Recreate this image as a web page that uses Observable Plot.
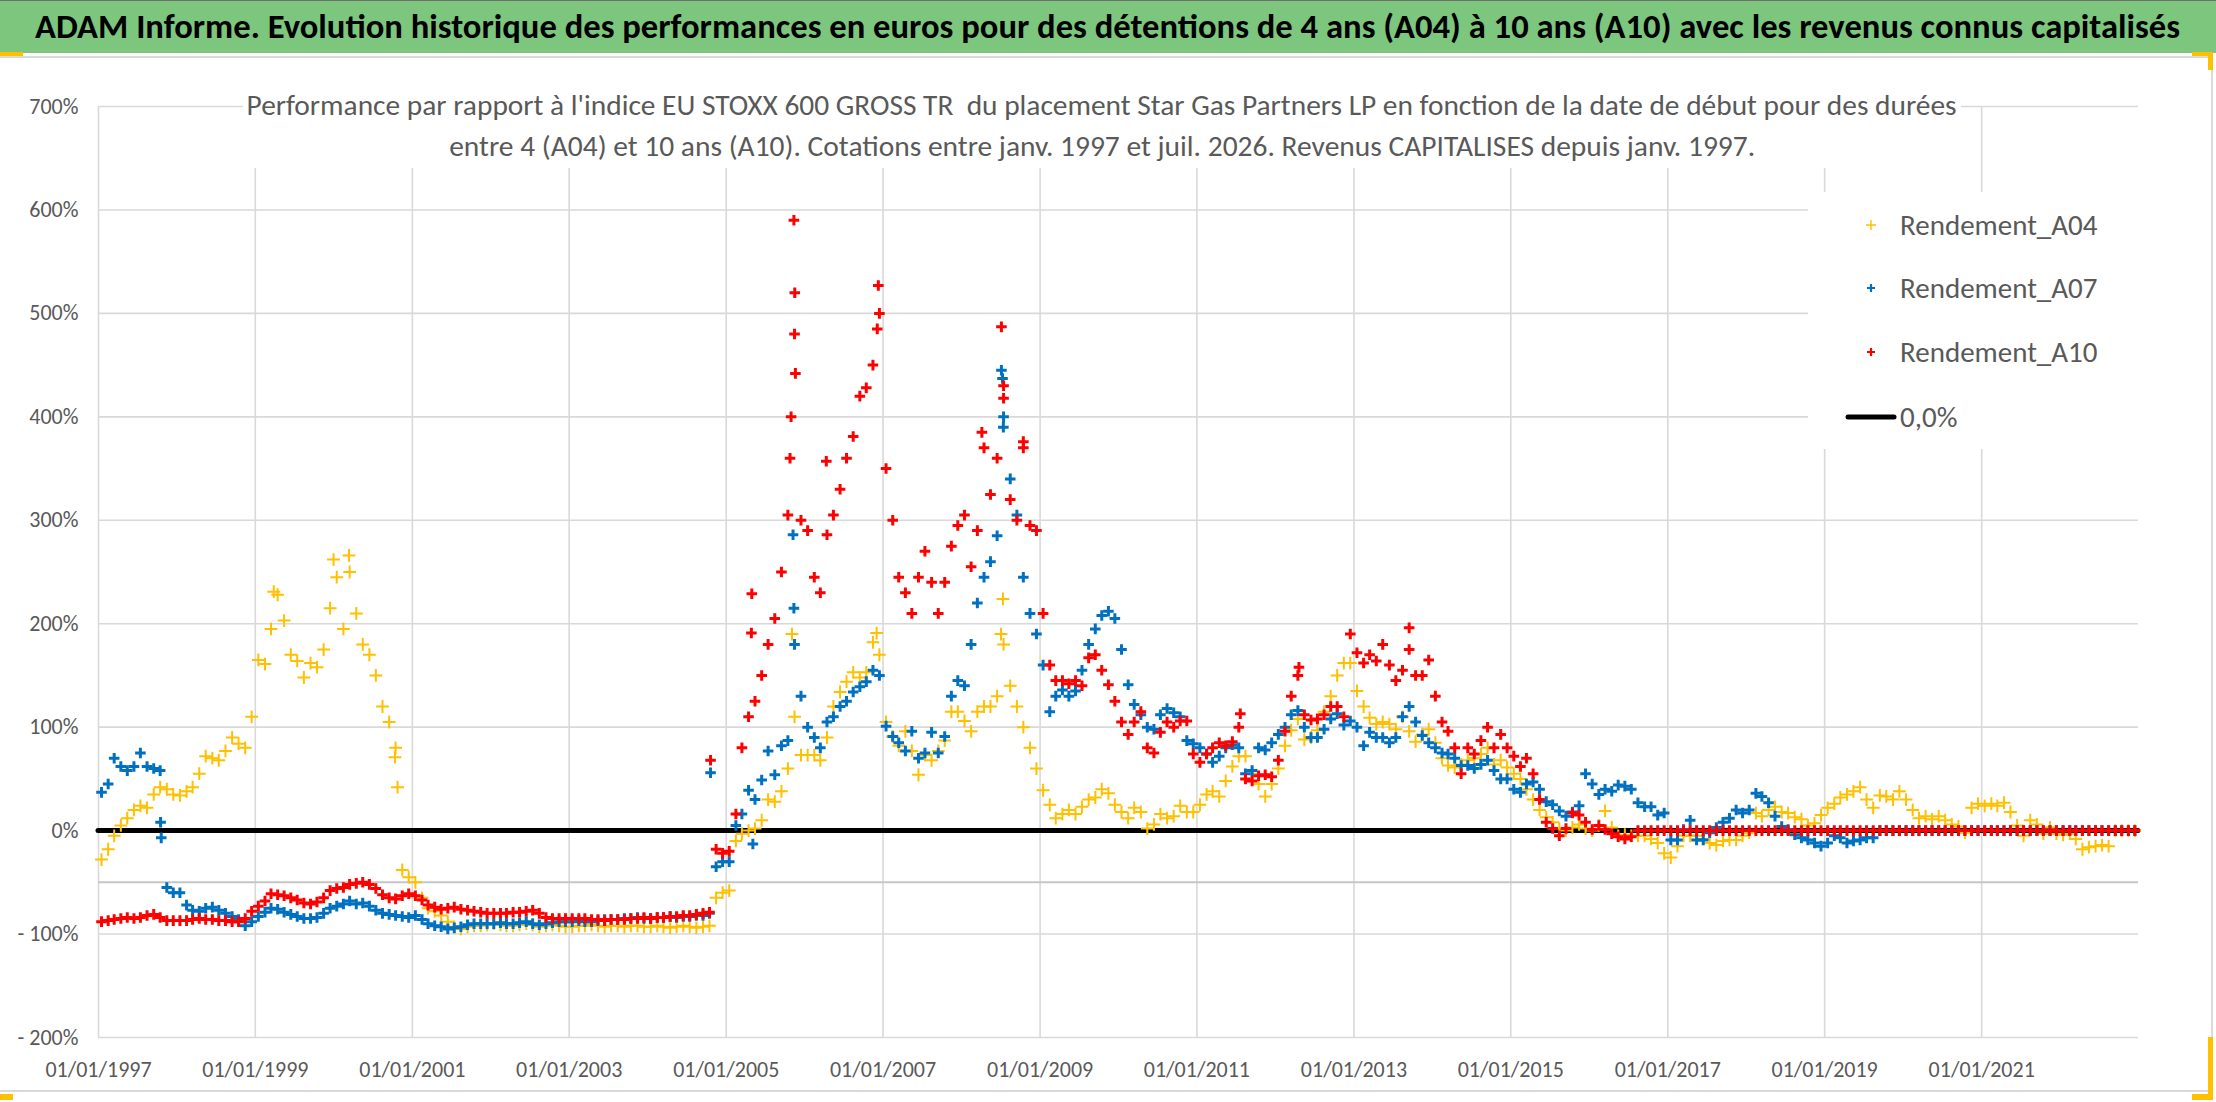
<!DOCTYPE html>
<html>
<head>
<meta charset="utf-8">
<script src="https://cdn.jsdelivr.net/npm/d3@7"></script>
<script src="https://cdn.jsdelivr.net/npm/@observablehq/plot@0.6"></script>
<style>
  html, body { margin: 0; padding: 0; background: #fff; }
  body { width: 2216px; height: 1102px; position: relative; overflow: hidden;
         font-family: Carlito, "Liberation Sans Narrow", "DejaVu Sans Condensed", sans-serif; }
  .abs { position: absolute; }
  #titlebar { left: 0; top: 0; width: 2216px; height: 53px; background: #7dc67e; border-top: 1px solid #6f6f6f; box-sizing: border-box; }
  #title { left: 0; top: 0; width: 2216px; height: 53px; line-height: 53px; text-align: center; white-space: nowrap; }
  #title span { display: inline-block; font-weight: bold; font-size: 34px; color: #000; transform-origin: 50% 50%; }
  #chartframe { left: 0; top: 56px; width: 2213px; height: 1036px; border: 2px solid #d9d9d9; border-left: none; box-sizing: border-box; }
  #chart { left: 0; top: 55px; }
  #subbox { left: 243px; top: 60px; width: 1718px; height: 108px; background: #fff; }
  .subline { left: 0; width: 2204px; text-align: center; white-space: nowrap; height: 34px; line-height: 34px; }
  .subline span { display: inline-block; font-size: 28px; color: #595959; transform-origin: 50% 50%; }
  #legend { left: 1808px; top: 192px; width: 334px; height: 257px; background: #fff; }
  .lgrow { position: absolute; left: 0; width: 334px; height: 40px; }
  .lgrow svg { position: absolute; left: 30px; top: 0; }
  .lgrow .lt { position: absolute; left: 92px; top: 0; height: 40px; line-height: 40px; font-size: 29px; color: #595959; white-space: nowrap; }
  .handle { background: #ffc000; }
</style>
</head>
<body>
<div id="titlebar" class="abs"></div>
<div id="title" class="abs"><span id="titletext">ADAM Informe. Evolution historique des performances en euros pour des détentions de 4 ans (A04) à 10 ans (A10) avec les revenus connus capitalisés</span></div>
<div id="chartframe" class="abs"></div>
<div id="chart" class="abs"></div>
<div id="subbox" class="abs"></div>
<div class="abs subline" style="top:89px"><span id="sub1">Performance par rapport à l'indice EU STOXX 600 GROSS TR&nbsp; du placement Star Gas Partners LP en fonction de la date de début pour des durées</span></div>
<div class="abs subline" style="top:130px"><span id="sub2">entre 4 (A04) et 10 ans (A10). Cotations entre janv. 1997 et juil. 2026. Revenus CAPITALISES depuis janv. 1997.</span></div>
<div id="legend" class="abs"></div>
<div class="abs handle" style="left:0;top:52px;width:23px;height:4px"></div>
<div class="abs handle" style="left:2192px;top:52px;width:21px;height:4px"></div>
<div class="abs handle" style="left:2208px;top:52px;width:5px;height:18px"></div>
<div class="abs handle" style="left:0;top:1094px;width:13px;height:6px"></div>
<div class="abs handle" style="left:2192px;top:1094px;width:21px;height:6px"></div>
<div class="abs handle" style="left:2208px;top:1037px;width:5px;height:63px"></div>
<script>
// ---------- data ----------
const seriesNames = ["Rendement_A04", "Rendement_A07", "Rendement_A10"];
const seriesColors = ["#FFC000", "#0070C0", "#FF0000"];
const firstMonth = "1997-01";   // monthly values, one per month, 1997-01 .. 2022-12
const lastMonthExclusive = "2023-01";

const rendement_A04 = [
  -0.28,-0.18,-0.05,0.05,0.12,0.20,0.24,0.22,0.35,0.42,0.40,0.35,      // 1997
  0.34,0.38,0.42,0.55,0.72,0.70,0.68,0.77,0.90,0.84,0.80,1.10,         // 1998
  1.65,1.61,1.95,2.28,2.03,1.70,1.64,1.48,1.62,1.58,1.75,2.15,         // 1999
  2.45,1.95,2.50,2.10,1.80,1.70,1.50,1.20,1.05,0.80,-0.38,-0.45,       // 2000
  -0.50,-0.65,-0.75,-0.78,-0.82,-0.88,-0.93,-0.95,-0.93,-0.92,-0.92,-0.91, // 2001
  -0.90,-0.91,-0.92,-0.92,-0.91,-0.90,-0.91,-0.93,-0.92,-0.91,-0.92,-0.93, // 2002
  -0.93,-0.92,-0.92,-0.91,-0.92,-0.93,-0.92,-0.92,-0.93,-0.92,-0.92,-0.93, // 2003
  -0.93,-0.92,-0.93,-0.94,-0.93,-0.92,-0.93,-0.94,-0.93,-0.92,-0.65,-0.60, // 2004
  -0.58,-0.10,-0.03,0.00,0.02,0.10,0.30,0.28,0.38,0.60,1.10,0.73,      // 2005
  0.73,0.73,0.68,0.90,1.20,1.34,1.44,1.53,1.48,1.53,1.82,1.70,         // 2006
  1.05,0.91,0.82,0.96,0.77,0.54,0.73,0.68,0.77,0.87,1.15,1.15,         // 2007
  1.06,0.96,1.15,1.20,1.20,1.30,1.80,1.40,1.20,1.00,0.80,0.60,         // 2008
  0.39,0.25,0.12,0.16,0.20,0.16,0.23,0.30,0.32,0.40,0.36,0.25,         // 2009
  0.18,0.12,0.22,0.18,0.02,0.06,0.16,0.12,0.14,0.24,0.18,0.18,         // 2010
  0.25,0.35,0.38,0.33,0.48,0.62,0.72,0.72,0.55,0.45,0.33,0.45,         // 2011
  0.60,0.82,0.97,1.08,0.88,0.90,0.97,1.15,1.30,1.50,1.62,1.62,         // 2012
  1.35,1.20,1.09,1.03,1.05,1.03,0.98,1.10,0.96,0.86,0.93,0.98,         // 2013
  0.85,0.70,0.63,0.61,0.64,0.68,0.70,0.74,0.80,0.64,0.68,0.61,         // 2014
  0.55,0.50,0.40,0.30,0.20,0.13,0.08,0.02,0.00,0.03,0.06,0.02,         // 2015
  0.00,0.05,0.19,0.03,-0.05,-0.04,-0.05,-0.05,-0.05,-0.08,-0.12,-0.22, // 2016
  -0.26,-0.15,-0.05,-0.05,-0.05,-0.08,-0.12,-0.14,-0.10,-0.09,-0.09,-0.05, // 2017
  -0.02,0.17,0.14,0.20,0.23,0.18,0.17,0.13,0.11,0.05,0.07,0.15,        // 2018
  0.22,0.26,0.32,0.35,0.38,0.42,0.30,0.22,0.34,0.33,0.30,0.38,         // 2019
  0.30,0.20,0.12,0.14,0.11,0.14,0.10,0.06,0.04,-0.02,0.22,0.26,        // 2020
  0.24,0.26,0.24,0.27,0.18,0.05,-0.05,0.10,0.06,-0.03,0.03,-0.03,      // 2021
  -0.04,-0.03,-0.08,-0.18,-0.16,-0.15,-0.14,-0.15,0,0,0,0              // 2022
];
const rendement_A07 = [
  0.37,0.45,0.70,0.62,0.58,0.62,0.75,0.62,0.60,0.58,-0.55,-0.60,       // 1997
  -0.60,-0.72,-0.77,-0.78,-0.75,-0.74,-0.77,-0.80,-0.83,-0.86,-0.92,-0.88, // 1998
  -0.83,-0.79,-0.75,-0.76,-0.79,-0.81,-0.83,-0.85,-0.85,-0.84,-0.80,-0.75, // 1999
  -0.73,-0.71,-0.68,-0.71,-0.70,-0.73,-0.77,-0.80,-0.81,-0.82,-0.83,-0.84, // 2000
  -0.82,-0.86,-0.90,-0.92,-0.93,-0.95,-0.94,-0.93,-0.91,-0.90,-0.90,-0.90, // 2001
  -0.90,-0.89,-0.90,-0.90,-0.89,-0.88,-0.90,-0.91,-0.90,-0.89,-0.88,-0.88, // 2002
  -0.88,-0.87,-0.88,-0.88,-0.87,-0.86,-0.86,-0.86,-0.85,-0.85,-0.84,-0.85, // 2003
  -0.85,-0.84,-0.84,-0.83,-0.84,-0.83,-0.83,-0.82,-0.82,-0.80,-0.35,-0.30, // 2004
  -0.30,0.05,0.16,0.39,0.30,0.49,0.77,0.54,0.82,0.87,1.80,1.30,        // 2005
  1.00,0.90,0.80,1.05,1.10,1.20,1.25,1.34,1.39,1.44,1.55,1.50,         // 2006
  1.01,0.91,0.85,0.77,0.96,0.70,0.75,0.95,0.75,0.91,1.30,1.45,         // 2007
  1.40,1.80,2.20,2.45,2.60,2.85,4.00,3.40,3.05,2.45,2.10,1.90,         // 2008
  1.60,1.15,1.30,1.36,1.30,1.35,1.55,1.80,1.95,2.08,2.12,2.05,         // 2009
  1.75,1.41,1.22,1.12,1.00,0.98,1.12,1.18,1.14,1.10,0.87,0.84,         // 2010
  0.80,0.74,0.66,0.72,0.80,0.83,0.80,0.55,0.58,0.80,0.78,0.85,         // 2011
  0.93,1.00,1.12,1.16,1.00,0.90,0.90,0.98,1.08,1.13,1.02,1.06,         // 2012
  1.00,0.82,0.95,0.90,0.90,0.85,0.90,1.10,1.20,1.05,0.92,0.85,         // 2013
  0.80,0.75,0.74,0.70,0.63,0.63,0.60,0.64,0.68,0.58,0.50,0.50,         // 2014
  0.40,0.37,0.45,0.47,0.40,0.28,0.25,0.19,0.14,0.18,0.24,0.55,         // 2015
  0.45,0.35,0.40,0.38,0.44,0.43,0.40,0.27,0.23,0.23,0.15,0.17,         // 2016
  -0.09,-0.09,0.01,0.10,-0.09,-0.09,-0.02,0.03,0.08,0.12,0.20,0.17,    // 2017
  0.20,0.36,0.33,0.27,0.14,0.04,0.01,-0.04,-0.07,-0.09,-0.12,-0.15,    // 2018
  -0.12,-0.05,-0.07,-0.12,-0.10,-0.09,-0.07,-0.07,0,0,0,0,             // 2019
  0,0,0,0,0,0,0,0,0,0,0,0,                                             // 2020
  0,0,0,0,0,0,0,0,0,0,0,0,                                             // 2021
  0,0,0,0,0,0,0,0,0,0,0,0                                              // 2022
];
const rendement_A10 = [
  -0.88,-0.87,-0.86,-0.85,-0.84,-0.85,-0.84,-0.82,-0.81,-0.84,-0.87,-0.87, // 1997
  -0.87,-0.87,-0.86,-0.85,-0.86,-0.86,-0.87,-0.87,-0.88,-0.88,-0.85,-0.78, // 1998
  -0.73,-0.68,-0.61,-0.62,-0.63,-0.65,-0.67,-0.70,-0.71,-0.69,-0.65,-0.58, // 1999
  -0.56,-0.55,-0.52,-0.51,-0.50,-0.52,-0.56,-0.62,-0.65,-0.66,-0.63,-0.61, // 2000
  -0.63,-0.67,-0.72,-0.74,-0.76,-0.75,-0.74,-0.76,-0.77,-0.78,-0.79,-0.80, // 2001
  -0.80,-0.80,-0.80,-0.79,-0.79,-0.78,-0.77,-0.80,-0.84,-0.85,-0.85,-0.85, // 2002
  -0.85,-0.85,-0.85,-0.86,-0.86,-0.87,-0.86,-0.86,-0.86,-0.85,-0.85,-0.84, // 2003
  -0.85,-0.84,-0.84,-0.83,-0.83,-0.82,-0.82,-0.81,-0.80,-0.79,-0.18,-0.22, // 2004
  -0.20,0.16,0.80,1.10,1.25,1.50,1.80,2.05,2.50,3.05,4.80,3.00,        // 2005
  2.90,2.45,2.30,2.86,3.05,3.30,3.60,3.81,4.20,4.28,4.50,5.00,         // 2006
  3.50,3.00,2.45,2.30,2.10,2.45,2.70,2.40,2.10,2.40,2.75,2.95,         // 2007
  3.05,2.55,2.90,3.70,3.25,3.60,4.30,3.20,3.00,3.70,2.95,2.90,         // 2008
  2.10,1.60,1.45,1.45,1.42,1.45,1.40,1.67,1.70,1.55,1.41,1.25,         // 2009
  1.05,0.93,1.05,1.15,0.80,0.75,0.95,1.05,1.00,1.06,1.06,0.74,         // 2010
  0.66,0.74,0.80,0.85,0.82,0.86,1.00,0.50,0.48,0.53,0.54,0.52,         // 2011
  0.68,0.96,1.30,1.50,1.12,1.07,1.08,1.12,1.20,1.20,1.10,1.90,         // 2012
  1.72,1.62,1.70,1.64,1.80,1.60,1.45,1.55,1.75,1.50,1.50,1.65,         // 2013
  1.30,1.05,0.96,0.80,0.55,0.80,0.74,0.87,1.00,0.80,0.93,0.80,         // 2014
  0.72,0.62,0.70,0.55,0.30,0.08,0.02,-0.05,0.02,0.17,0.15,0.08,        // 2015
  0.01,0.05,0.01,-0.03,-0.06,-0.08,-0.06,0,0,0,0,0,                    // 2016
  0,0,0,0,0,0,0,0,0,0,0,0,                                             // 2017
  0,0,0,0,0,0,0,0,0,0,0,0,                                             // 2018
  0,0,0,0,0,0,0,0,0,0,0,0,                                             // 2019
  0,0,0,0,0,0,0,0,0,0,0,0,                                             // 2020
  0,0,0,0,0,0,0,0,0,0,0,0,                                             // 2021
  0,0,0,0,0,0,0,0,0,0,0,0                                              // 2022
];
// isolated spikes visible in the picture (date, value)
const extra_A04_dates  = ["1999-03-28","1999-12-31","2000-03-12","2000-10-12","2000-10-24","2005-11-03","2006-12-02","2008-07-12","2008-07-03"];
const extra_A04_values = [2.31, 2.62, 2.66, 0.71, 0.42, 1.90, 1.91, 2.24, 1.90];
const extra_A07_dates  = ["1997-10-17","1997-10-20","2004-10-20","2005-11-08","2005-11-12","2008-07-05","2008-07-10","2008-07-14","2005-05-05"];
const extra_A07_values = [0.08, -0.07, 0.56, 2.86, 2.15, 4.45, 4.37, 3.90, -0.13];
const extra_A10_dates  = ["2004-10-20","2005-04-28","2005-04-30","2005-10-25","2005-10-30","2005-11-12","2005-11-16","2005-11-19","2006-04-12","2006-12-05","2006-12-10","2008-04-05","2008-07-05","2008-07-15","2008-10-15","2011-07-22","2012-04-20","2013-09-15"];
const extra_A10_values = [0.68, 1.91, 2.29, 3.60, 4.00, 5.90, 5.20, 4.42, 3.57, 4.85, 5.27, 3.85, 4.87, 4.18, 3.76, 1.13, 1.58, 1.96];

const yTicks = [-2, -1, 0, 1, 2, 3, 4, 5, 6, 7];
const xTickLabels = ["01/01/1997","01/01/1999","01/01/2001","01/01/2003","01/01/2005","01/01/2007","01/01/2009","01/01/2011","01/01/2013","01/01/2015","01/01/2017","01/01/2019","01/01/2021"];
const zeroLabel = "0,0%";

// ---------- build tables ----------
const parseDMY = d3.utcParse("%d/%m/%Y");
const parseYM = d3.utcParse("%Y-%m");
const parseYMD = d3.utcParse("%Y-%m-%d");
const months = d3.utcMonth.range(parseYM(firstMonth), parseYM(lastMonthExclusive)).map(d => d3.utcDay.offset(d, 14));
function rows(values, exDates, exValues) {
  const r = values.map((v, i) => ({date: months[i], value: v}));
  exDates.forEach((d, i) => r.push({date: parseYMD(d), value: exValues[i]}));
  return r;
}
const dataA04 = rows(rendement_A04, extra_A04_dates, extra_A04_values);
const dataA07 = rows(rendement_A07, extra_A07_dates, extra_A07_values);
const dataA10 = rows(rendement_A10, extra_A10_dates, extra_A10_values);
const xTicks = xTickLabels.map(parseDMY);
const xDomain = [parseYM(firstMonth), parseYM(lastMonthExclusive)];

const pct = v => v < 0 ? "- " + Math.round(-v * 100) + "%" : Math.round(v * 100) + "%";
const fontStack = 'Carlito, "Liberation Sans Narrow", "DejaVu Sans Condensed", sans-serif';

const chart = Plot.plot({
  width: 2216,
  height: 1047,
  marginLeft: 98,
  marginRight: 78,
  marginTop: 51,
  marginBottom: 65,
  style: {fontFamily: fontStack, background: "transparent", color: "#595959"},
  x: {type: "utc", domain: xDomain},
  y: {domain: [-2, 7]},
  marks: [
    Plot.gridY(yTicks, {stroke: "#d9d9d9", strokeOpacity: 1, strokeWidth: 1.6}),
    Plot.gridX(xTicks, {stroke: "#d9d9d9", strokeOpacity: 1, strokeWidth: 1.6}),
    Plot.ruleY([-0.5], {stroke: "#c6c6c6", strokeWidth: 2}),
    Plot.ruleY([0], {stroke: "#000", strokeWidth: 5, strokeLinecap: "round"}),
    Plot.axisY(yTicks, {tickSize: 0, tickPadding: 20, tickFormat: pct, fontSize: 22, fill: "#595959", label: null}),
    Plot.axisX(xTicks, {tickSize: 0, tickPadding: 24, tickFormat: d3.utcFormat("%d/%m/%Y"), fontSize: 22, fill: "#595959", label: null}),
    Plot.dot(dataA04, {x: "date", y: "value", symbol: "plus", r: 4.2, stroke: seriesColors[0], strokeWidth: 2}),
    Plot.dot(dataA07, {x: "date", y: "value", symbol: "plus", r: 3.5, stroke: seriesColors[1], strokeWidth: 3}),
    Plot.dot(dataA10, {x: "date", y: "value", symbol: "plus", r: 3.5, stroke: seriesColors[2], strokeWidth: 3})
  ]
});
document.getElementById("chart").appendChild(chart);

// ---------- legend ----------
const legend = document.getElementById("legend");
const rowTops = [13, 76, 140, 205];
seriesNames.forEach((name, i) => {
  const row = document.createElement("div");
  row.className = "lgrow";
  row.style.top = rowTops[i] + "px";
  const sw = i === 0 ? 1.4 : 2.2, h = i === 0 ? 5 : 4;
  row.innerHTML = `<svg width="66" height="40"><path d="M${33-h},20H${33+h}M33,${20-h}V${20+h}" stroke="${seriesColors[i]}" stroke-width="${sw}" fill="none"/></svg><div class="lt">${name}</div>`;
  legend.appendChild(row);
});
const zrow = document.createElement("div");
zrow.className = "lgrow";
zrow.style.top = rowTops[3] + "px";
zrow.innerHTML = `<svg width="66" height="40" style="left:30px"><path d="M10,20H56" stroke="#000" stroke-width="5" stroke-linecap="round"/></svg><div class="lt">${zeroLabel}</div>`;
legend.appendChild(zrow);

// ---------- fit title / subtitle widths ----------
function fit(id, target) {
  const el = document.getElementById(id);
  const w = el.getBoundingClientRect().width;
  if (w > 0) el.style.transform = `scaleX(${target / w})`;
}
fit("titletext", 2145);
fit("sub1", 1710);
fit("sub2", 1306);
</script>
</body>
</html>
